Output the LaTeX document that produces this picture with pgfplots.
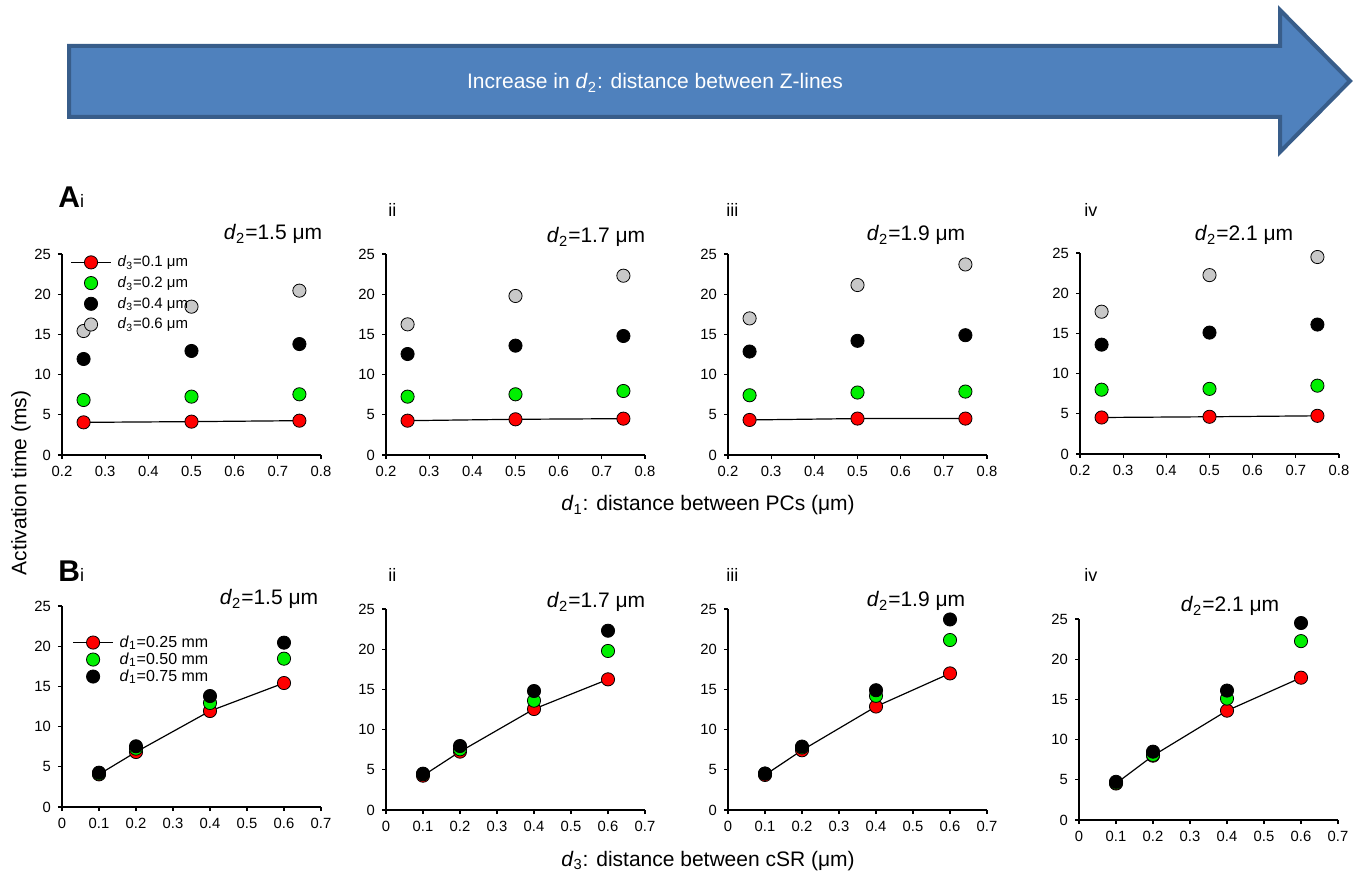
\documentclass[border=0pt]{standalone}
\usepackage{fontspec}
\setmainfont{Liberation Sans}
\usepackage{pgfplots}
\pgfplotsset{compat=1.18}

\definecolor{arrowfill}{HTML}{4F81BD}
\definecolor{arrowdraw}{HTML}{385D8A}
\definecolor{ptred}{HTML}{FF0000}
\definecolor{ptgreen}{HTML}{00F000}
\definecolor{ptgray}{HTML}{C8C8C8}

\newcommand{\dd}[1]{\textit{d}\textsubscript{#1}}

\pgfplotsset{
  panel/.style={
    scale only axis, width=129.5pt, height=100.5pt, anchor=south west,
    axis x line=bottom, axis y line=left, axis line style={-, line width=0.7pt},
    tick align=outside, major tick length=2pt, tick style={black, line width=0.6pt},
    ymin=0, ymax=25, ytick={0,5,10,15,20,25}, clip=false,
    /pgf/number format/assume math mode=true,
    tick label style={font=\fontsize{7.4}{8}\selectfont},
    xticklabel style={/pgf/number format/fixed, /pgf/number format/precision=1},
    legend image code/.code={\draw[mark repeat=2,mark phase=2,##1] plot coordinates {(0pt,0pt)(10pt,0pt)(20pt,0pt)};},
    legend cell align=left,
    legend style={draw=none, fill=none, inner sep=0pt, column sep=2.5pt,
      nodes={inner sep=0.5pt, text height=6pt, text depth=1.5pt}},
  },
  paneA/.style={panel, xmin=0.2, xmax=0.8, xtick={0.2,0.3,0.4,0.5,0.6,0.7,0.8}},
  paneB/.style={panel, xmin=0, xmax=0.7, xtick={0,0.1,0.2,0.3,0.4,0.5,0.6,0.7}},
  dot/.style={only marks, mark=*, mark size=3.3pt,
    mark options={draw=black, line width=0.4pt, fill=#1},
    legend image code/.code={\draw[mark repeat=2,mark phase=2,##1] plot coordinates {(0pt,0pt)(10pt,0pt)(20pt,0pt)};}},
  linedot/.style={black, line width=0.6pt, mark=*, mark size=3.3pt, mark options={draw=black, line width=0.4pt, fill=#1}},
}

\begin{document}
\begin{tikzpicture}
\path[use as bounding box] (0,0) rectangle (679.5pt,436.5pt);

% arrow banner
\draw[fill=arrowfill, draw=arrowdraw, line width=2pt, line join=miter]
  (34.5pt,413.5pt) -- (640pt,413.5pt) -- (640pt,431.5pt) -- (675pt,396pt)
  -- (640pt,360.5pt) -- (640pt,378pt) -- (34.5pt,378pt) -- cycle;
\node[white, font=\fontsize{10.5}{12}\selectfont] at (327.5pt,395pt)
  {Increase in \dd{2}: distance between Z-lines};

% ---------- row A ----------
\begin{axis}[paneA, at={(31pt,209pt)},
  legend style={at={(rel axis cs:0.031,1.0025)}, anchor=north west, row sep=1.85pt,
    font=\fontsize{7.5}{8}\selectfont}]
\addplot[linedot=ptred] coordinates {(0.25,4.06)(0.5,4.15)(0.75,4.27)};
\addlegendentry{\dd{3}=0.1 μm}
\addplot[dot=ptgreen] coordinates {(0.25,6.84)(0.5,7.26)(0.75,7.55)};
\addlegendentry{\dd{3}=0.2 μm}
\addplot[dot=black] coordinates {(0.25,11.94)(0.5,12.94)(0.75,13.80)};
\addlegendentry{\dd{3}=0.4 μm}
\addplot[dot=ptgray] coordinates {(0.25,15.42)(0.5,18.45)(0.75,20.44)};
\addlegendentry{\dd{3}=0.6 μm}
\end{axis}

\begin{axis}[paneA, at={(193pt,209pt)}]
\addplot[linedot=ptred] coordinates {(0.25,4.27)(0.5,4.44)(0.75,4.52)};
\addplot[dot=ptgreen] coordinates {(0.25,7.26)(0.5,7.55)(0.75,7.96)};
\addplot[dot=black] coordinates {(0.25,12.56)(0.5,13.60)(0.75,14.80)};
\addplot[dot=ptgray] coordinates {(0.25,16.25)(0.5,19.78)(0.75,22.30)};
\end{axis}

\begin{axis}[paneA, at={(364pt,209pt)}]
\addplot[linedot=ptred] coordinates {(0.25,4.36)(0.5,4.53)(0.75,4.53)};
\addplot[dot=ptgreen] coordinates {(0.25,7.43)(0.5,7.77)(0.75,7.89)};
\addplot[dot=black] coordinates {(0.25,12.87)(0.5,14.20)(0.75,14.90)};
\addplot[dot=ptgray] coordinates {(0.25,16.99)(0.5,21.14)(0.75,23.70)};
\end{axis}

\begin{axis}[paneA, at={(540pt,209.5pt)}]
\addplot[linedot=ptred] coordinates {(0.25,4.54)(0.5,4.63)(0.75,4.75)};
\addplot[dot=ptgreen] coordinates {(0.25,8.00)(0.5,8.10)(0.75,8.50)};
\addplot[dot=black] coordinates {(0.25,13.60)(0.5,15.10)(0.75,16.10)};
\addplot[dot=ptgray] coordinates {(0.25,17.70)(0.5,22.25)(0.75,24.50)};
\end{axis}

% ---------- row B ----------
\begin{axis}[paneB, at={(31pt,33pt)},
  legend style={at={(rel axis cs:0.039,0.8625)}, anchor=north west, row sep=0pt,
    font=\fontsize{8}{9}\selectfont}]
\addplot[linedot=ptred] coordinates {(0.1,4.06)(0.2,6.84)(0.4,11.94)(0.6,15.42)};
\addlegendentry{\dd{1}=0.25 mm}
\addplot[dot=ptgreen] coordinates {(0.1,4.15)(0.2,7.26)(0.4,12.94)(0.6,18.45)};
\addlegendentry{\dd{1}=0.50 mm}
\addplot[dot=black] coordinates {(0.1,4.27)(0.2,7.55)(0.4,13.80)(0.6,20.44)};
\addlegendentry{\dd{1}=0.75 mm}
\end{axis}

\begin{axis}[paneB, at={(193pt,31.5pt)}]
\addplot[linedot=ptred] coordinates {(0.1,4.27)(0.2,7.26)(0.4,12.56)(0.6,16.25)};
\addplot[dot=ptgreen] coordinates {(0.1,4.44)(0.2,7.55)(0.4,13.60)(0.6,19.78)};
\addplot[dot=black] coordinates {(0.1,4.52)(0.2,7.96)(0.4,14.80)(0.6,22.30)};
\end{axis}

\begin{axis}[paneB, at={(364pt,31.5pt)}]
\addplot[linedot=ptred] coordinates {(0.1,4.36)(0.2,7.43)(0.4,12.87)(0.6,16.99)};
\addplot[dot=ptgreen] coordinates {(0.1,4.53)(0.2,7.77)(0.4,14.20)(0.6,21.14)};
\addplot[dot=black] coordinates {(0.1,4.53)(0.2,7.89)(0.4,14.90)(0.6,23.70)};
\end{axis}

\begin{axis}[paneB, at={(539.5pt,26.5pt)}]
\addplot[linedot=ptred] coordinates {(0.1,4.54)(0.2,8.00)(0.4,13.60)(0.6,17.70)};
\addplot[dot=ptgreen] coordinates {(0.1,4.63)(0.2,8.10)(0.4,15.10)(0.6,22.25)};
\addplot[dot=black] coordinates {(0.1,4.75)(0.2,8.50)(0.4,16.10)(0.6,24.50)};
\end{axis}

% ---------- panel letters and titles ----------
\node[anchor=base west, inner sep=0pt] at (29pt,332.5pt)
  {{\fontsize{15}{15}\selectfont\bfseries A}{\fontsize{9}{9}\selectfont i}};
\node[anchor=base west, inner sep=0pt] at (29pt,145.5pt)
  {{\fontsize{15}{15}\selectfont\bfseries B}{\fontsize{9}{9}\selectfont i}};
\foreach \xx/\lab in {194/ii,363/iii,542/iv}{
  \node[anchor=base west, inner sep=0pt, font=\fontsize{9}{9}\selectfont] at (\xx pt,328pt) {\lab};
  \node[anchor=base west, inner sep=0pt, font=\fontsize{9}{9}\selectfont] at (\xx pt,145.5pt) {\lab};
}
\begin{scope}[every node/.style={anchor=base, inner sep=0pt, font=\fontsize{10.5}{12}\selectfont}]
\node at (136.5pt,316.5pt) {\dd{2}=1.5 μm};
\node at (298pt,315pt) {\dd{2}=1.7 μm};
\node at (458pt,316pt) {\dd{2}=1.9 μm};
\node at (622pt,316pt) {\dd{2}=2.1 μm};
\node at (134.5pt,134pt) {\dd{2}=1.5 μm};
\node at (298pt,132.5pt) {\dd{2}=1.7 μm};
\node at (458pt,133pt) {\dd{2}=1.9 μm};
\node at (615pt,130.5pt) {\dd{2}=2.1 μm};
\node at (354pt,181pt) {\dd{1}: distance between PCs (μm)};
\node at (354pt,3.5pt) {\dd{3}: distance between cSR (μm)};
\end{scope}
\node[rotate=90, inner sep=0pt, font=\fontsize{10.5}{12}\selectfont] at (10.5pt,195pt) {Activation time (ms)};
\end{tikzpicture}
\end{document}
